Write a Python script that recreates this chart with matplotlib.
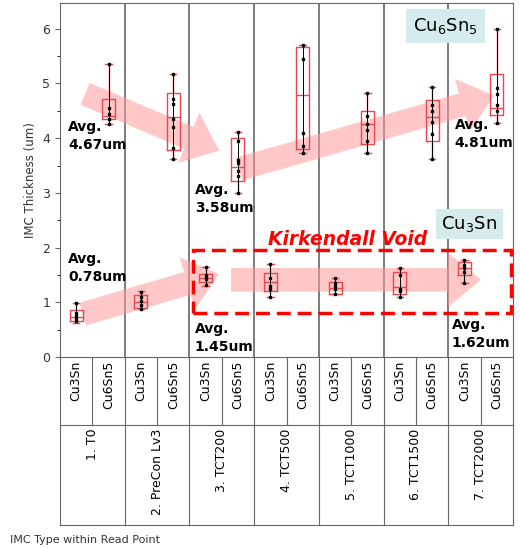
import matplotlib.pyplot as plt
from matplotlib.patches import Rectangle

groups = ["1. T0", "2. PreCon Lv3", "3. TCT200", "4. TCT500", "5. TCT1000", "6. TCT1500", "7. TCT2000"]
types = ["Cu3Sn", "Cu6Sn5"]

# per column: whisker low, Q1, median, Q3, whisker high
wlo = [0.63, 4.25, 0.87, 3.62, 1.30, 3.00, 1.10, 3.73, 1.15, 3.73, 1.10, 3.62, 1.35, 4.27]
q1 = [0.65, 4.35, 0.90, 3.78, 1.37, 3.22, 1.20, 3.80, 1.15, 3.90, 1.15, 3.95, 1.50, 4.42]
med = [0.73, 4.40, 1.00, 4.38, 1.45, 3.47, 1.37, 4.78, 1.27, 4.25, 1.28, 4.38, 1.62, 4.55]
q3 = [0.85, 4.72, 1.13, 4.83, 1.52, 4.00, 1.53, 5.67, 1.37, 4.50, 1.55, 4.70, 1.73, 5.18]
whi = [0.98, 5.35, 1.20, 5.18, 1.65, 4.12, 1.70, 5.70, 1.45, 4.83, 1.62, 4.93, 1.78, 6.00]
points = [
    [0.65, 0.72, 0.75, 0.80, 0.98],
    [4.25, 4.35, 4.45, 4.55, 5.35],
    [0.88, 0.95, 1.02, 1.10, 1.18],
    [3.62, 3.82, 4.2, 4.35, 4.62, 4.72, 5.18],
    [1.32, 1.42, 1.47, 1.5, 1.65],
    [3.0, 3.3, 3.4, 3.55, 3.6, 3.95, 4.12],
    [1.1, 1.25, 1.3, 1.45, 1.7],
    [3.73, 3.85, 4.1, 5.45, 5.7],
    [1.15, 1.25, 1.3, 1.35, 1.45],
    [3.73, 3.95, 4.15, 4.25, 4.4, 4.83],
    [1.1, 1.2, 1.25, 1.5, 1.62],
    [3.62, 4.08, 4.3, 4.5, 4.6, 4.93],
    [1.35, 1.55, 1.62, 1.68, 1.78],
    [4.27, 4.5, 4.6, 4.8, 4.92, 6.0],
]
avg_labels = [("4.67um", -0.25, 4.33), ("0.78um", -0.25, 1.92), ("3.58um", 3.67, 3.18),
              ("1.45um", 3.67, 0.64), ("4.81um", 11.7, 4.37), ("1.62um", 11.6, 0.71)]
arrows = [((0.2, 4.83), (4.5, 3.75)), ((4.95, 3.42), (13.0, 4.79)),
          ((0.12, 0.77), (4.5, 1.53)), ((4.7, 1.41), (12.6, 1.41))]

fig = plt.figure(figsize=(5.2, 5.48), dpi=100)
ax = fig.add_axes([60 / 520, 1 - 357 / 548, 453 / 520, 354 / 548])
n = len(med)
ax.set_xlim(-0.5, n - 0.5)
ax.set_ylim(0, 6.47)

for a, b in arrows:
    ax.annotate("", xy=b, xytext=a, zorder=1,
                arrowprops=dict(arrowstyle="simple,head_width=2.3,head_length=1.4,tail_width=1",
                                mutation_scale=17, color="#ff9a9a", alpha=0.55, lw=0))

stats = [dict(whislo=wlo[i], q1=q1[i], med=med[i], q3=q3[i], whishi=whi[i]) for i in range(n)]
ax.bxp(stats, positions=range(n), widths=0.4, showfliers=False, zorder=3,
       boxprops=dict(color="#e8474f", lw=1), medianprops=dict(color="#e8474f", lw=1),
       whiskerprops=dict(color="#e8474f", lw=1), capprops=dict(color="#e8474f", lw=1))
for i, pts in enumerate(points):
    ax.plot([i] * len(pts), pts, ls="-", color="black", lw=0.7, marker="s", ms=2, zorder=4)

for b in range(1, len(groups)):
    ax.axvline(2 * b - 0.5, color="#666666", lw=1.2, zorder=0)

for t, x, y in avg_labels:
    ax.text(x, y, "Avg.\n" + t, fontsize=10, fontweight="bold", va="top", ha="left",
            linespacing=1.35, zorder=6)

ax.add_patch(Rectangle((3.6, 0.8), 9.85, 1.16, fill=False, ec="red", lw=2.5, ls=(0, (4, 2)), zorder=5))
ax.text(8.4, 2.15, "Kirkendall Void", color="red", fontsize=13.5, fontweight="bold",
        style="italic", ha="center", va="center", zorder=6)
ax.text(11.4, 6.05, "Cu$_6$Sn$_5$", fontsize=13, ha="center", va="center", zorder=6,
        bbox=dict(boxstyle="square,pad=0.4", fc="#d5ebed", ec="none"))
ax.text(12.15, 2.43, "Cu$_3$Sn", fontsize=13, ha="center", va="center", zorder=7,
        bbox=dict(boxstyle="square,pad=0.3", fc="#d5ebed", ec="none"))

ax.set_yticks(range(7))
ax.set_yticks([v + 0.5 for v in range(6)], minor=True)
ax.tick_params(axis="y", labelsize=9, labelcolor="#333333", color="#666666", direction="out")
ax.set_xticks([])
ax.set_ylabel("IMC Thickness (um)", fontsize=8.5, color="#333333")
for s in ax.spines.values():
    s.set_color("#666666")

# category rows below the axis
tr = ax.get_xaxis_transform()
y1, y2 = -0.192, -0.475
for i in range(n):
    ax.text(i, -0.01, types[i % 2], rotation=90, ha="center", va="top", fontsize=9, transform=tr)
    ax.plot([i - 0.5, i - 0.5], [0, y1], color="#666666", lw=0.8, transform=tr, clip_on=False)
ax.plot([-0.5, n - 0.5], [y1, y1], color="#666666", lw=0.8, transform=tr, clip_on=False)
ax.plot([-0.5, n - 0.5], [y2, y2], color="#666666", lw=0.8, transform=tr, clip_on=False)
for g, name in enumerate(groups):
    ax.plot([2 * g - 0.5, 2 * g - 0.5], [y1, y2], color="#666666", lw=0.8, transform=tr, clip_on=False)
    ax.text(2 * g + 0.5, y1 - 0.01, name, rotation=90, ha="center", va="top", fontsize=9, transform=tr)
ax.plot([n - 0.5, n - 0.5], [0, y2], color="#666666", lw=0.8, transform=tr, clip_on=False)

fig.text(10 / 520, 1 - 540 / 548, "IMC Type within Read Point", fontsize=8, color="#333333", va="center")
fig.savefig("out.png", dpi=100)
